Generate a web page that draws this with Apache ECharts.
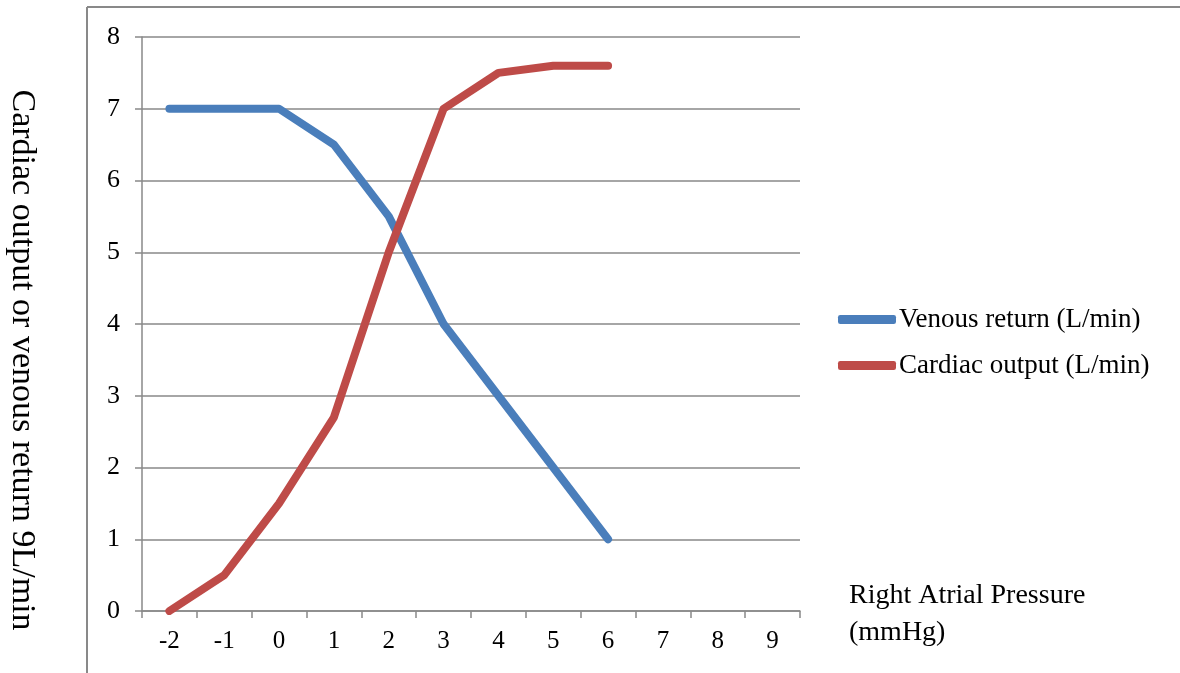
<!DOCTYPE html>
<html>
<head>
<meta charset="utf-8">
<script src="https://cdn.jsdelivr.net/npm/echarts@6/dist/echarts.min.js"></script>
<style>
html,body{margin:0;padding:0;background:#fff;}
#chart{width:1180px;height:673px;}
</style>
</head>
<body>
<div id="chart"></div>
<script>
// Right atrial pressure (mmHg) categories
const pressure = ['-2', '-1', '0', '1', '2', '3', '4', '5', '6', '7', '8', '9'];
// Venous return (L/min)
const venousReturn = [7, 7, 7, 6.5, 5.5, 4, 3, 2, 1];
// Cardiac output (L/min)
const cardiacOutput = [0, 0.5, 1.5, 2.7, 5, 7, 7.5, 7.6, 7.6];

const serif = '"Liberation Serif", "DejaVu Serif", serif';
const gridColor = '#898989';

const chart = echarts.init(document.getElementById('chart'));
chart.setOption({
  animation: false,
  backgroundColor: '#fff',
  grid: { left: 142, right: 380, top: 37, bottom: 62, containLabel: false },
  legend: {
    orient: 'vertical',
    left: 838,
    top: 306,
    padding: 0,
    itemWidth: 58,
    itemHeight: 9,
    itemGap: 19,
    icon: 'roundRect',
    textStyle: { fontFamily: serif, fontSize: 27, lineHeight: 27, color: '#000', padding: [0, 0, 0, -2] },
    data: ['Venous return (L/min)', 'Cardiac output (L/min)']
  },
  xAxis: {
    type: 'category',
    data: pressure,
    boundaryGap: true,
    axisLine: { lineStyle: { color: gridColor, width: 1.5 } },
    axisTick: { show: true, length: 7, lineStyle: { color: gridColor, width: 1.5 } },
    axisLabel: { color: '#000', fontFamily: serif, fontSize: 25, margin: 18 }
  },
  yAxis: {
    type: 'value',
    min: 0,
    max: 8,
    interval: 1,
    axisLine: { show: true, lineStyle: { color: gridColor, width: 1.5 } },
    axisTick: { show: true, length: 7, lineStyle: { color: gridColor, width: 1.5 } },
    axisLabel: { color: '#000', fontFamily: serif, fontSize: 26, margin: 22 },
    splitLine: { lineStyle: { color: gridColor, width: 1.5 } }
  },
  series: [
    {
      name: 'Venous return (L/min)',
      type: 'line',
      data: venousReturn,
      symbol: 'none',
      color: '#4a7ebb',
      lineStyle: { width: 8, color: '#4a7ebb', cap: 'round', join: 'round' }
    },
    {
      name: 'Cardiac output (L/min)',
      type: 'line',
      data: cardiacOutput,
      symbol: 'none',
      color: '#be4b48',
      lineStyle: { width: 8, color: '#be4b48', cap: 'round', join: 'round' }
    }
  ],
  graphic: [
    // outer frame: left and top edges
    { type: 'line', shape: { x1: 87, y1: 7, x2: 87, y2: 673 }, style: { stroke: gridColor, lineWidth: 2 } },
    { type: 'line', shape: { x1: 87, y1: 7, x2: 1180, y2: 7 }, style: { stroke: gridColor, lineWidth: 2 } },
    {
      type: 'text',
      x: 22,
      y: 360,
      rotation: -Math.PI / 2,
      style: {
        text: 'Cardiac output or venous return 9L/min',
        font: '34px ' + serif,
        fill: '#000',
        align: 'center',
        verticalAlign: 'middle'
      }
    },
    {
      type: 'text',
      left: 849,
      top: 577,
      style: {
        text: 'Right Atrial Pressure\n(mmHg)',
        font: '28px ' + serif,
        lineHeight: 37,
        fill: '#000'
      }
    }
  ]
});
</script>
</body>
</html>
